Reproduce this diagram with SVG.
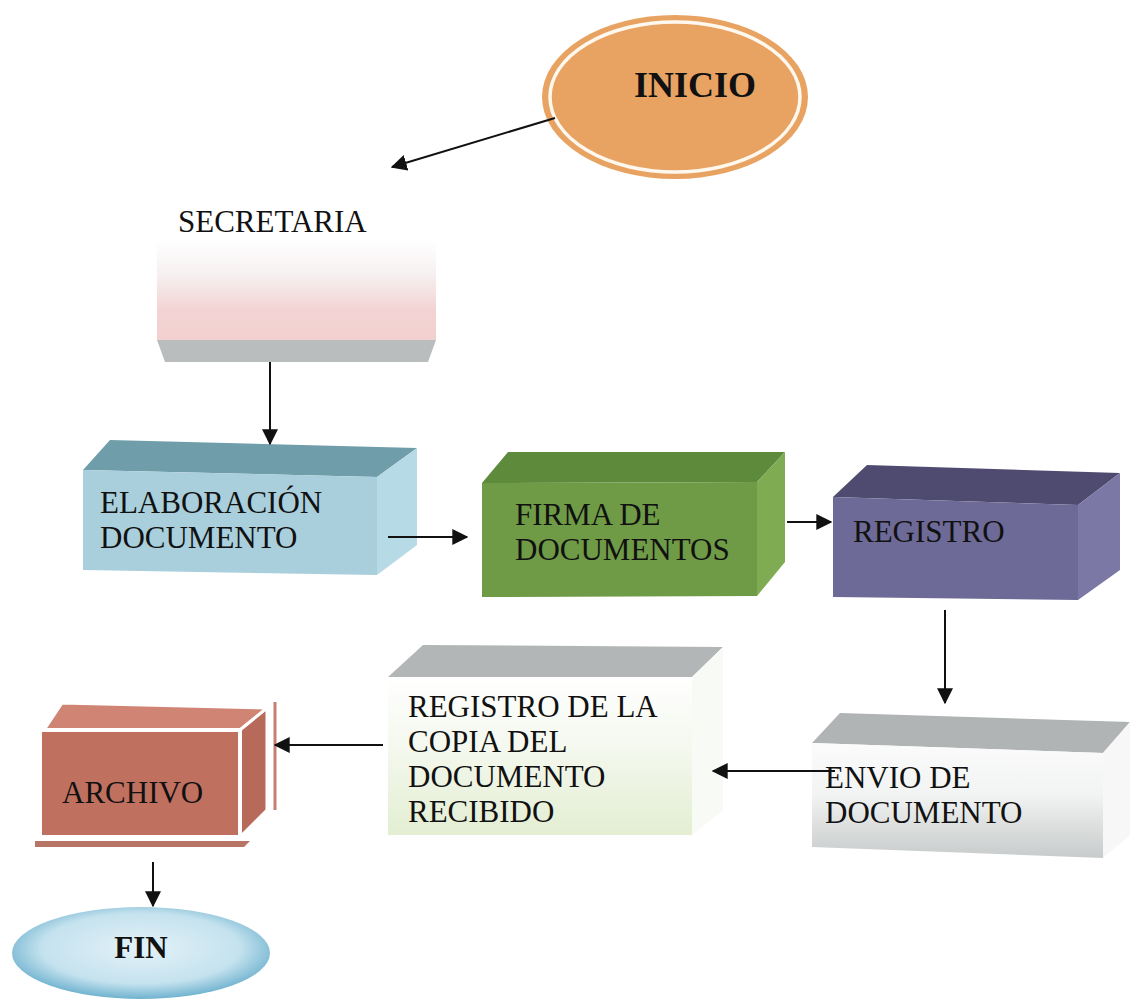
<svg xmlns="http://www.w3.org/2000/svg" width="1131" height="1000" viewBox="0 0 1131 1000">
<defs>
<style>
.t{font-family:"Liberation Serif","Times New Roman",serif;font-size:31px;fill:#111}
.b{font-weight:bold}
.ln{stroke:#111;stroke-width:2;fill:none}
</style>
<marker id="ah" viewBox="0 0 12 12" refX="11" refY="6" markerWidth="8" markerHeight="8" markerUnits="strokeWidth" orient="auto">
<path d="M0,0 L12,6 L0,12 z" fill="#111"/>
</marker>
<linearGradient id="gSec" x1="0" y1="0" x2="0" y2="1">
<stop offset="0" stop-color="#ffffff"/>
<stop offset="0.35" stop-color="#f6f0f0"/>
<stop offset="0.7" stop-color="#f3d3d3"/>
<stop offset="1" stop-color="#f2d0d0"/>
</linearGradient>
<linearGradient id="gEnv" x1="0" y1="0" x2="0" y2="1">
<stop offset="0" stop-color="#fbfbfb"/>
<stop offset="0.45" stop-color="#f2f3f3"/>
<stop offset="1" stop-color="#c8cbcb"/>
</linearGradient>
<linearGradient id="gCop" x1="0" y1="0" x2="0" y2="1">
<stop offset="0" stop-color="#ffffff"/>
<stop offset="0.45" stop-color="#f4f8ee"/>
<stop offset="1" stop-color="#e3eed2"/>
</linearGradient>
<radialGradient id="gFin" cx="0.5" cy="0.45" r="0.55">
<stop offset="0" stop-color="#e4f2f8"/>
<stop offset="0.7" stop-color="#c4e2ee"/>
<stop offset="1" stop-color="#6fb2cf"/>
</radialGradient>
</defs>

<g id="inicio">
<ellipse cx="675" cy="97" rx="133" ry="82" fill="#e8a363"/>
<ellipse cx="675" cy="97" rx="125" ry="75" fill="none" stroke="#fff8ee" stroke-width="3.5"/>
<text class="t b" x="695" y="97" text-anchor="middle" style="font-size:36px">INICIO</text>
</g>

<g id="secretaria">
<text class="t" x="178" y="232">SECRETARIA</text>
<rect x="157" y="240" width="279" height="100" fill="url(#gSec)"/>
<polygon points="157,340 436,340 428,362 165,362" fill="#b9bdbd"/>
</g>

<g id="elaboracion">
<polygon points="83,470 110,440 417,448 377,477" fill="#6f9eaa"/>
<polygon points="377,477 417,448 417,545 377,575" fill="#b6dbe6"/>
<polygon points="83,470 377,477 377,575 83,570" fill="#a9cfdc"/>
<text class="t" x="100" y="513">ELABORACIÓN</text>
<text class="t" x="100" y="548">DOCUMENTO</text>
</g>

<g id="firma">
<polygon points="482,483 508,452 785,452 757,482" fill="#5e8a3b"/>
<polygon points="757,482 785,452 785,562 757,596" fill="#7fab52"/>
<polygon points="482,483 757,482 757,596 482,597" fill="#6f9b46"/>
<text class="t" x="515" y="525">FIRMA DE</text>
<text class="t" x="515" y="560">DOCUMENTOS</text>
</g>

<g id="registro">
<polygon points="833,497 867,465 1120,473 1078,505" fill="#4f4b70"/>
<polygon points="1078,505 1120,473 1120,570 1078,600" fill="#7c78a6"/>
<polygon points="833,497 1078,505 1078,600 833,597" fill="#6e6a97"/>
<text class="t" x="853" y="542">REGISTRO</text>
</g>

<g id="envio">
<polygon points="812,743 840,713 1130,722 1103,753" fill="#b1b4b4"/>
<polygon points="1103,753 1130,722 1130,835 1103,858" fill="#f7f7f7"/>
<polygon points="812,743 1103,753 1103,858 812,847" fill="url(#gEnv)"/>
<text class="t" x="825" y="788">ENVIO DE</text>
<text class="t" x="825" y="823">DOCUMENTO</text>
</g>

<g id="copia">
<polygon points="388,677 423,645 723,647 692,677" fill="#b3b6b6"/>
<polygon points="692,677 723,647 723,810 692,835" fill="#f8faf5"/>
<rect x="388" y="677" width="304" height="158" fill="url(#gCop)"/>
<text class="t" x="408" y="717">REGISTRO DE LA</text>
<text class="t" x="408" y="752">COPIA DEL</text>
<text class="t" x="408" y="787">DOCUMENTO</text>
<text class="t" x="408" y="822">RECIBIDO</text>
</g>

<g id="archivo">
<polygon points="35,841 250,841 244,847 35,847" fill="#b87464"/>
<line x1="275" y1="702" x2="275" y2="810" stroke="#c57f70" stroke-width="3"/>
<polygon points="44,730 62,703 267,708 240,730" fill="#cf8474" stroke="#ffffff" stroke-width="3"/>
<polygon points="240,730 267,708 267,810 240,837" fill="#b86a5a" stroke="#ffffff" stroke-width="3"/>
<rect x="40" y="730" width="200" height="107" fill="#c0705f" stroke="#ffffff" stroke-width="4"/>
<text class="t" x="62" y="803">ARCHIVO</text>
</g>

<g id="fin">
<ellipse cx="141" cy="953" rx="129" ry="46" fill="url(#gFin)"/>
<text class="t b" x="141" y="958" text-anchor="middle">FIN</text>
</g>

<g id="connectors">
<line class="ln" x1="555" y1="118" x2="392" y2="167" marker-end="url(#ah)"/>
<line class="ln" x1="270" y1="362" x2="270" y2="444" marker-end="url(#ah)"/>
<line class="ln" x1="388" y1="537" x2="467" y2="537" marker-end="url(#ah)"/>
<line class="ln" x1="787" y1="522" x2="831" y2="522" marker-end="url(#ah)"/>
<line class="ln" x1="945" y1="610" x2="945" y2="703" marker-end="url(#ah)"/>
<line class="ln" x1="835" y1="771" x2="713" y2="771" marker-end="url(#ah)"/>
<line class="ln" x1="383" y1="745" x2="275" y2="745" marker-end="url(#ah)"/>
<line class="ln" x1="153" y1="862" x2="153" y2="906" marker-end="url(#ah)"/>
</g>
</svg>
